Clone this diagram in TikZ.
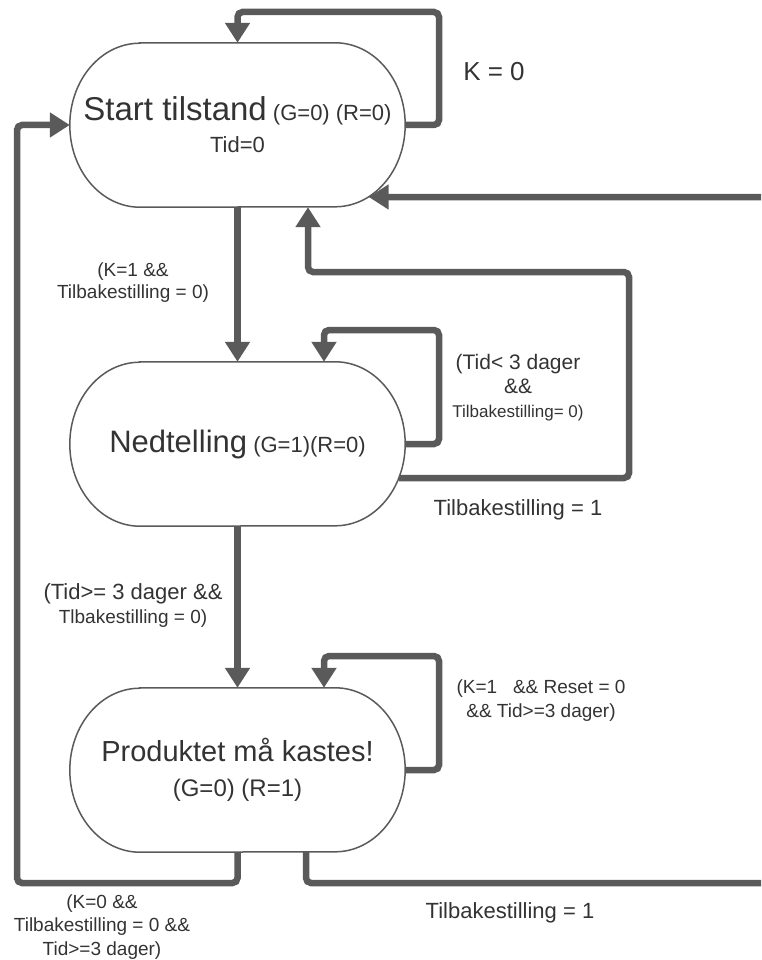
\documentclass[tikz,border=0pt]{standalone}
\usepackage{fontspec}
\setmainfont{Liberation Sans}
\usetikzlibrary{arrows.meta}
\definecolor{lineg}{HTML}{5A5A5A}
\definecolor{txt}{HTML}{333333}
\newcommand\fsz[2]{\fontsize{#1}{#2}\selectfont}
\newcommand\stadiumoutline[1]{%
  \draw[stateline] ([xshift=70pt]#1.north west) -- ([xshift=-70pt]#1.north east)
    arc[start angle=90,end angle=-90,x radius=70pt,y radius=82pt]
    -- ([xshift=70pt]#1.south west)
    arc[start angle=270,end angle=90,x radius=70pt,y radius=82pt] -- cycle;}
\tikzset{
  conn/.style={draw=lineg, line width=6.5pt, rounded corners=5pt,
    -{Triangle[width=24pt,length=20pt]}},
  stateshape/.style={rectangle, minimum width=335pt, minimum height=164pt,
    inner sep=0pt, align=center, text=txt},
  stateline/.style={draw=lineg, line width=1.5pt},
  lbl/.style={text=txt, align=center, inner sep=0pt}
}
\begin{document}
\begin{tikzpicture}[x=1pt,y=1pt]
\useasboundingbox (0,0) rectangle (761,-960);
\clip (0,0) rectangle (761,-960);
% states
\node[stateshape, font=\fsz{22}{32}] (s1) at (237.5,-125)
  {{\fsz{33}{32}Start tilstand} (G=0) (R=0)\\Tid=0};
\node[stateshape, font=\fsz{22}{32}] (s2) at (237.5,-444)
  {{\fsz{31}{32}Nedtelling} (G=1)(R=0)};
\node[stateshape, font=\fsz{24}{35}] (s3) at (237.5,-770)
  {{\fsz{29}{35}Produktet må kastes!}\\(G=0) (R=1)};
\stadiumoutline{s1}
\stadiumoutline{s2}
\stadiumoutline{s3}
% helper coordinates on borders
\coordinate (s2out) at ([xshift=-6.3pt,yshift=-34pt]s2.east);
\coordinate (s1in) at ([xshift=-36.5pt,yshift=-72pt]s1.east);
% connectors
\draw[conn] (s1.east) -| (439,-12) -| (s1.north);
\draw[conn] (s1.south) -- (s2.north);
\draw[conn] (s3.south) |- (17,-883) |- (s1.west);
\draw[conn] (s2out) -| (629,-272) -| ([xshift=70.5pt]s1.south);
\draw[conn] (s2.east) -| (439,-330) -| ([xshift=86.5pt]s2.north);
\draw[conn] (s2.south) -- (s3.north);
\draw[conn] (s3.east) -| (439,-656) -| ([xshift=86.5pt]s3.north);
\draw[conn] ([xshift=68.5pt]s3.south) |- (775,-883) |- (s1in);
% labels
\node[lbl, font=\fsz{26}{30}] (l1) at (494,-72) {K = 0};
\node[lbl, font=\fsz{19}{22}] (l2) at (133,-283) {(K=1 \&\&\\Tilbakestilling = 0)};
\node[lbl, font=\fsz{21}{24}] (l3) at (518,-388)
  {(Tid< 3 dager\\\&\&\\{\fsz{17}{25}Tilbakestilling= 0)}};
\node[lbl, font=\fsz{22}{26}] (l4) at (518,-510) {Tilbakestilling = 1};
\node[lbl, font=\fsz{22}{24}] (l5) at (133,-605)
  {(Tid>= 3 dager \&\&\\{\fsz{19}{24}Tlbakestilling = 0)}};
\node[lbl, font=\fsz{19}{24}] (l6) at (541,-701)
  {(K=1\ \ \ \&\& Reset = 0\\\&\& Tid>=3 dager)};
\node[lbl, font=\fsz{19}{23.5}] (l7) at (102,-927)
  {(K=0 \&\&\\Tilbakestilling = 0 \&\&\\Tid>=3 dager)};
\node[lbl, font=\fsz{22}{26}] (l8) at (510,-913) {Tilbakestilling = 1};
\end{tikzpicture}
\end{document}
